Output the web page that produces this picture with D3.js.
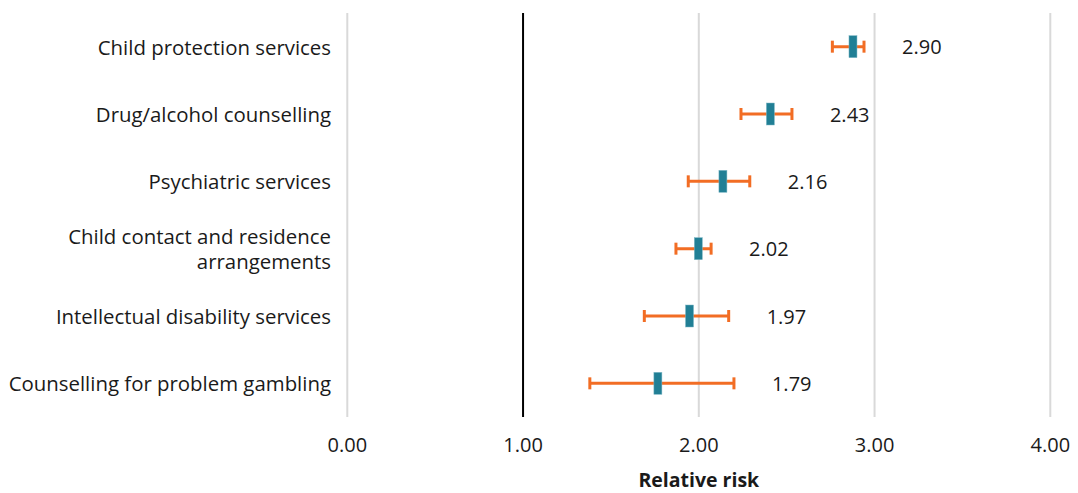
<!DOCTYPE html>
<html>
<head>
<meta charset="utf-8">
<script src="https://cdn.jsdelivr.net/npm/d3@7"></script>
<style>
  body { margin: 0; background: #fff; }
  svg text { font-family: "Open Sans", sans-serif; fill: #1a1a1a; }
</style>
</head>
<body>
<div id="chart"></div>
<script>
// Chart data
const categories = [
    "Child protection services",
    "Drug/alcohol counselling",
    "Psychiatric services",
    "Child contact and residence arrangements",
    "Intellectual disability services",
    "Counselling for problem gambling"
];
const relativeRisk = [2.90, 2.43, 2.16, 2.02, 1.97, 1.79];
const ciLower = [2.76, 2.24, 1.94, 1.87, 1.69, 1.38];
const ciUpper = [2.94, 2.53, 2.29, 2.07, 2.17, 2.20];
const xTicks = [0, 1, 2, 3, 4];

const width = 1078, height = 493;
const margin = { top: 13, right: 28, bottom: 76, left: 347 };

const rows = categories.map((c, i) => ({
    category: c, value: relativeRisk[i], lo: ciLower[i], hi: ciUpper[i]
}));

const svg = d3.select('#chart')
    .append('svg')
    .attr('width', width)
    .attr('height', height);

const x = d3.scaleLinear()
    .domain([0, 4])
    .range([347.3, 1050.3]);

const y = d3.scaleBand()
    .domain(categories)
    .range([margin.top, height - margin.bottom])
    .paddingInner(0)
    .paddingOuter(0);

const cy = d => y(d.category) + y.bandwidth() / 2;

// gridlines
svg.append('g')
    .selectAll('line')
    .data(xTicks)
    .enter()
    .append('line')
    .attr('x1', d => x(d))
    .attr('x2', d => x(d))
    .attr('y1', y.range()[0])
    .attr('y2', y.range()[1])
    .attr('stroke', d => d === 1 ? '#000' : '#d9d9d9')
    .attr('stroke-width', 2);

// tick labels
svg.append('g')
    .selectAll('text')
    .data(xTicks)
    .enter()
    .append('text')
    .attr('x', d => x(d))
    .attr('y', 444)
    .attr('text-anchor', 'middle')
    .attr('dominant-baseline', 'central')
    .style('font-size', '20px')
    .text(d => d3.format('.2f')(d));

svg.append('text')
    .attr('x', x(2))
    .attr('y', 487)
    .attr('text-anchor', 'middle')
    .style('font-size', '19.5px')
    .style('font-weight', 'bold')
    .text('Relative risk');

// category labels, the long one split over two lines
const labelLines = [];
rows.forEach(d => {
    const lines = d.category.length > 35
        ? ['Child contact and residence', 'arrangements']
        : [d.category];
    lines.forEach((ln, i) => labelLines.push({
        text: ln,
        y: cy(d) + (i - (lines.length - 1) / 2) * 25
    }));
});

svg.append('g')
    .selectAll('text')
    .data(labelLines)
    .enter()
    .append('text')
    .attr('x', 331)
    .attr('y', d => d.y)
    .attr('text-anchor', 'end')
    .attr('dominant-baseline', 'central')
    .style('font-size', '20.4px')
    .text(d => d.text);

// error bars
const err = svg.append('g')
    .attr('stroke', '#f26d24')
    .attr('stroke-width', 3)
    .selectAll('g')
    .data(rows)
    .enter()
    .append('g');

err.append('line')
    .attr('x1', d => x(d.lo))
    .attr('x2', d => x(d.hi))
    .attr('y1', cy)
    .attr('y2', cy);

err.append('line')
    .attr('x1', d => x(d.lo))
    .attr('x2', d => x(d.lo))
    .attr('y1', d => cy(d) - 6)
    .attr('y2', d => cy(d) + 6);

err.append('line')
    .attr('x1', d => x(d.hi))
    .attr('x2', d => x(d.hi))
    .attr('y1', d => cy(d) - 6)
    .attr('y2', d => cy(d) + 6);

// point markers, drawn ending at the value
svg.append('g')
    .selectAll('rect')
    .data(rows)
    .enter()
    .append('rect')
    .attr('x', d => x(d.value) - 8)
    .attr('y', d => cy(d) - 11)
    .attr('width', 8)
    .attr('height', 22)
    .attr('fill', '#217f95')
    .attr('stroke', '#7fb8c6')
    .attr('stroke-width', 0.5);

// value labels
svg.append('g')
    .selectAll('text')
    .data(rows)
    .enter()
    .append('text')
    .attr('x', d => x(d.hi) + 38)
    .attr('y', cy)
    .attr('dominant-baseline', 'central')
    .style('font-size', '20px')
    .text(d => d3.format('.2f')(d.value));
</script>
</body>
</html>
